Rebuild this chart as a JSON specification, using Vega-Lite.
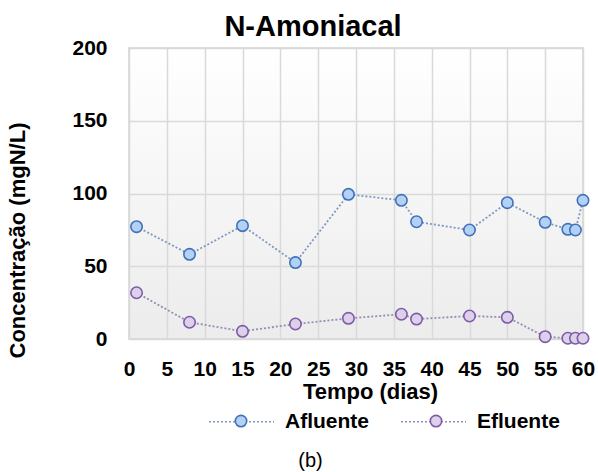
{
  "$schema": "https://vega.github.io/schema/vega-lite/v6.json",
  "width": 454,
  "height": 291,
  "autosize": {"type": "none"},
  "padding": {"left": 129, "top": 48, "right": 15, "bottom": 133},
  "background": "white",
  "title": {"text": "N-Amoniacal", "anchor": "middle", "frame": "group", "dx": -43, "offset": -5, "fontSize": 29, "font": "Liberation Sans", "fontWeight": "bold", "color": "#000000"},
  "config": {
    "font": "Liberation Sans",
    "view": {"stroke": "#d3d3d3", "strokeWidth": 1.5, "fill": {"gradient": "linear", "x1": 0, "y1": 0, "x2": 0, "y2": 1, "stops": [{"offset": 0, "color": "#ffffff"}, {"offset": 1, "color": "#ececec"}]}}
  },
  "data": {"values": [
    {"day": 1, "value": 77.2, "series": "Afluente"},
    {"day": 8, "value": 58.2, "series": "Afluente"},
    {"day": 15, "value": 77.9, "series": "Afluente"},
    {"day": 22, "value": 52.5, "series": "Afluente"},
    {"day": 29, "value": 99.4, "series": "Afluente"},
    {"day": 36, "value": 95.3, "series": "Afluente"},
    {"day": 38, "value": 80.6, "series": "Afluente"},
    {"day": 45, "value": 74.9, "series": "Afluente"},
    {"day": 50, "value": 93.7, "series": "Afluente"},
    {"day": 55, "value": 80.2, "series": "Afluente"},
    {"day": 58, "value": 75.4, "series": "Afluente"},
    {"day": 59, "value": 74.9, "series": "Afluente"},
    {"day": 60, "value": 95.3, "series": "Afluente"},
    {"day": 1, "value": 31.8, "series": "Efluente"},
    {"day": 8, "value": 11.5, "series": "Efluente"},
    {"day": 15, "value": 5.3, "series": "Efluente"},
    {"day": 22, "value": 10.3, "series": "Efluente"},
    {"day": 29, "value": 14.2, "series": "Efluente"},
    {"day": 36, "value": 17.0, "series": "Efluente"},
    {"day": 38, "value": 13.7, "series": "Efluente"},
    {"day": 45, "value": 15.8, "series": "Efluente"},
    {"day": 50, "value": 14.9, "series": "Efluente"},
    {"day": 55, "value": 1.6, "series": "Efluente"},
    {"day": 58, "value": 0.5, "series": "Efluente"},
    {"day": 59, "value": 0.5, "series": "Efluente"},
    {"day": 60, "value": 0.5, "series": "Efluente"}
  ]},
  "layer": [
    {
      "mark": {"type": "line", "strokeDash": [2, 2], "strokeWidth": 1.8},
      "encoding": {
        "x": {"field": "day", "type": "quantitative", "scale": {"domain": [0, 60], "nice": false},
          "axis": {"values": [0, 5, 10, 15, 20, 25, 30, 35, 40, 45, 50, 55, 60], "grid": true, "gridColor": "#d9d9d9", "gridWidth": 1.5, "ticks": false, "domain": false, "labelPadding": 19, "labelFontSize": 21, "labelFontWeight": "bold", "labelColor": "#000000", "labelFont": "Liberation Sans", "labelFlush": false, "labelOverlap": false,
            "title": "Tempo (dias)", "titleFontSize": 22, "titleFontWeight": "bold", "titleColor": "#000000", "titleFont": "Liberation Sans", "titleX": 241, "titleY": 42, "titleBaseline": "top"}},
        "y": {"field": "value", "type": "quantitative", "scale": {"domain": [0, 200], "nice": false},
          "axis": {"values": [0, 50, 100, 150, 200], "grid": true, "gridColor": "#d9d9d9", "gridWidth": 1.5, "ticks": false, "domain": false, "labelPadding": 22, "labelFontSize": 21, "labelFontWeight": "bold", "labelColor": "#000000", "labelFont": "Liberation Sans", "labelFlush": false,
            "title": "Concentração (mgN/L)", "titleFontSize": 22, "titleFontWeight": "bold", "titleColor": "#000000", "titleFont": "Liberation Sans", "titleX": -112, "titleY": 192, "titleBaseline": "middle"}},
        "stroke": {"field": "series", "type": "nominal", "scale": {"domain": ["Afluente", "Efluente"], "range": ["#8199bd", "#958db3"]},
          "legend": {"orient": "none", "legendX": 79, "legendY": 340, "direction": "horizontal", "title": null, "symbolType": "stroke", "symbolSize": 4225, "symbolStrokeWidth": 1.5, "symbolDash": [2, 2], "labelFontSize": 21, "labelFont": "Liberation Sans", "labelFontWeight": "bold", "labelColor": "#000000", "labelOffset": 10, "columnPadding": 29}}
      }
    },
    {
      "mark": {"type": "circle", "size": 130, "strokeWidth": 1.6, "opacity": 1},
      "encoding": {
        "x": {"field": "day", "type": "quantitative",
          "axis": {"orient": "bottom", "labels": false, "ticks": false, "domain": false, "grid": false, "title": "(b)", "titleFontSize": 20, "titleFontWeight": "normal", "titleColor": "#000000", "titleFont": "Liberation Sans", "titleX": 181, "titleY": 111, "titleBaseline": "top"}},
        "y": {"field": "value", "type": "quantitative"},
        "fill": {"field": "series", "type": "nominal", "scale": {"domain": ["Afluente", "Efluente"], "range": ["#b3d1f5", "#ddd0ea"]},
          "legend": {"orient": "none", "legendX": 105, "legendY": 366, "direction": "horizontal", "title": null, "symbolType": "circle", "symbolSize": 130, "symbolStrokeWidth": 1.6, "labelExpr": "''", "labelFontSize": 1, "labelOffset": 0, "columnPadding": 177}},
        "stroke": {"field": "series", "type": "nominal", "scale": {"domain": ["Afluente", "Efluente"], "range": ["#3f72b9", "#7d5ba6"]},
          "legend": {"orient": "none", "legendX": 105, "legendY": 366, "direction": "horizontal", "title": null, "symbolType": "circle", "symbolSize": 130, "symbolStrokeWidth": 1.6, "labelExpr": "''", "labelFontSize": 1, "labelOffset": 0, "columnPadding": 177}}
      }
    }
  ],
  "resolve": {
    "scale": {"stroke": "independent", "fill": "independent"},
    "axis": {"x": "independent"},
    "legend": {"stroke": "independent", "fill": "independent"}
  }
}
